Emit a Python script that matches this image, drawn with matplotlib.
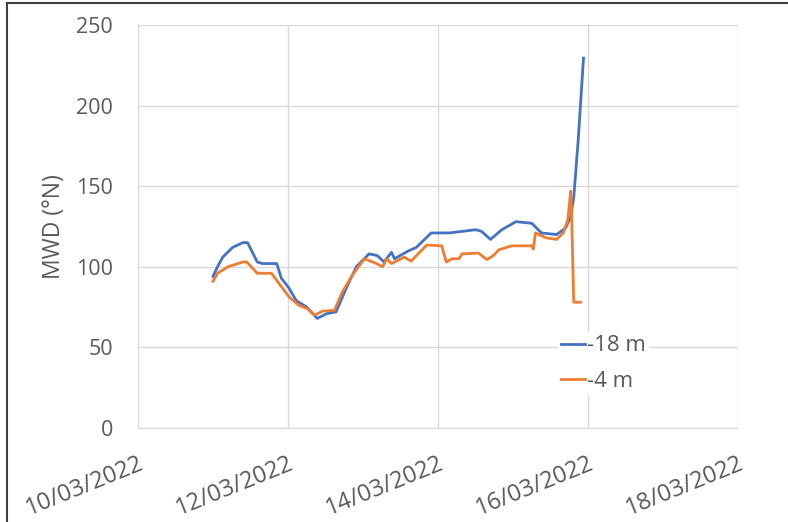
import numpy as np
import matplotlib.pyplot as plt
import matplotlib.dates as mdates
from matplotlib.patches import Rectangle
from datetime import datetime, timedelta

# MWD readings, time given as days after 10/03/2022 00:00
days_18m = [1.00, 1.06, 1.13, 1.26, 1.40, 1.46, 1.59, 1.66, 1.85, 1.91,
            2.01, 2.11, 2.25, 2.39, 2.52, 2.64, 2.78, 2.91, 3.08, 3.19,
            3.28, 3.38, 3.42, 3.61, 3.71, 3.91, 4.15, 4.50, 4.58, 4.70,
            4.85, 5.04, 5.25, 5.38, 5.58, 5.70, 5.77, 5.81, 5.87, 5.94]
mwd_18m = [94, 100, 106, 112, 115, 115, 103, 102, 102, 93,
           87, 79, 75, 68, 71, 72, 87, 100, 108, 107,
           103, 109, 105, 110, 112, 121, 121, 123, 122, 117,
           123, 128, 127, 121, 120, 124, 131, 143, 179, 229.5]

days_4m = [1.00, 1.06, 1.20, 1.40, 1.45, 1.59, 1.78, 1.89, 2.02, 2.15,
           2.26, 2.35, 2.46, 2.62, 2.72, 2.86, 3.02, 3.18, 3.26, 3.32,
           3.38, 3.55, 3.64, 3.85, 4.05, 4.11, 4.19, 4.28, 4.32, 4.54,
           4.65, 4.74, 4.81, 4.98, 5.25, 5.27, 5.30, 5.44, 5.58, 5.67,
           5.73, 5.77, 5.78, 5.81, 5.90]
mwd_4m = [91, 96, 100, 103, 103, 96, 96, 89, 81, 76,
          74, 70, 72.5, 73, 84, 95, 105, 102, 100, 105,
          102, 106, 103.5, 113.5, 113, 103, 105, 105, 108, 108.5,
          104.5, 107, 110.5, 113, 113, 111, 121, 118, 117, 121,
          129, 147, 135, 78, 78]

start = datetime(2022, 3, 10)
t_18m = [start + timedelta(days=d) for d in days_18m]
t_4m = [start + timedelta(days=d) for d in days_4m]

plt.rcParams['font.family'] = ['Open Sans', 'DejaVu Sans']
grey = '#595959'

fig = plt.figure(figsize=(7.88, 5.22), dpi=100)
ax = fig.add_axes([138/788, 1 - 428/522, 600/788, 403/522])

ax.plot(t_18m, mwd_18m, color='#4472C4', lw=2, label='-18 m')
ax.plot(t_4m, mwd_4m, color='#ED7D31', lw=2, label='-4 m')

ax.set_xlim(start, start + timedelta(days=8))
ax.set_ylim(0, 250)
ax.set_yticks(np.arange(0, 251, 50))
ax.xaxis.set_major_locator(mdates.DayLocator(interval=2))
ax.xaxis.set_major_formatter(mdates.DateFormatter('%d/%m/%Y'))

ax.grid(True, color='#D9D9D9', lw=1)
ax.set_axisbelow(True)
for s in ['top', 'right', 'left']:
    ax.spines[s].set_visible(False)
ax.spines['bottom'].set_color('#D9D9D9')
ax.tick_params(length=0, colors=grey)
ax.tick_params(axis='y', labelsize=15.5, pad=18)
ax.tick_params(axis='x', labelsize=17, pad=17)
for lab in ax.get_xticklabels():
    lab.set_rotation(22)
    lab.set_ha('right')
    lab.set_va('top')
    lab.set_rotation_mode('anchor')

ax.set_ylabel('MWD (°N)', color=grey, fontsize=16.5)
ax.yaxis.set_label_coords(-0.12, 0.5)

leg = ax.legend(loc='center left', bbox_to_anchor=(0.70, 0.16), frameon=True,
                facecolor='white', edgecolor='none', framealpha=1,
                fontsize=16, handlelength=1.05, handletextpad=0.1,
                labelspacing=0.65, borderpad=0.15, borderaxespad=0)
for txt in leg.get_texts():
    txt.set_color(grey)

# frame round the picture (cut off at right and bottom)
fig.patches.append(Rectangle((7/788, -0.1), 1.2, (519/522) + 0.1,
                             transform=fig.transFigure, fill=False,
                             edgecolor='#404040', lw=1.5))

fig.savefig('out.png', dpi=100)
